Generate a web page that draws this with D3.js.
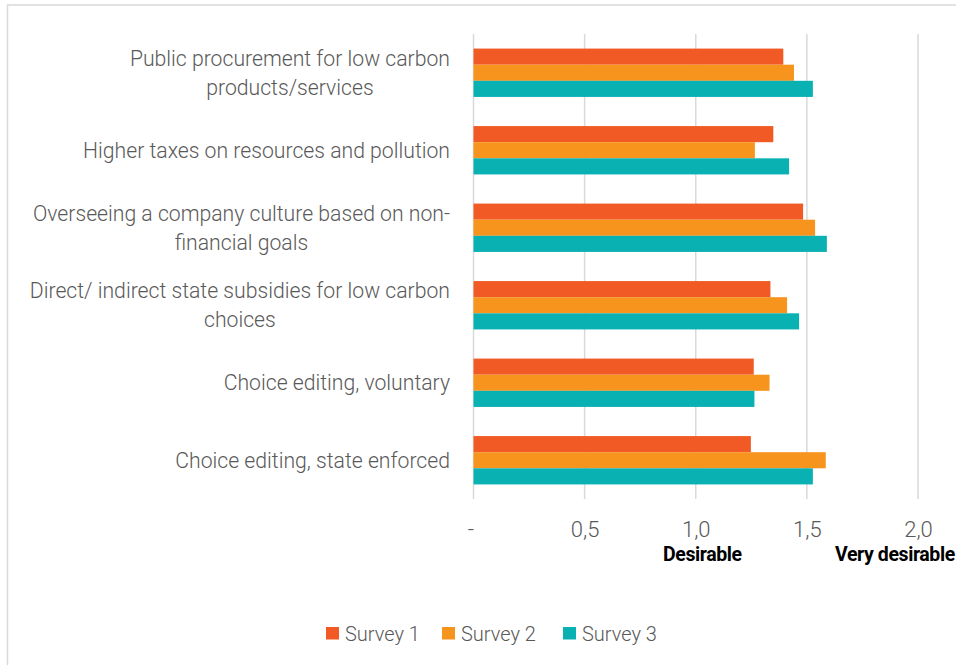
<!DOCTYPE html>
<html>
<head>
<meta charset="utf-8">
<script src="https://cdn.jsdelivr.net/npm/d3@7"></script>
<style>
  html, body { margin: 0; padding: 0; background: #fff; }
  svg { display: block; }
</style>
</head>
<body>
<svg id="chart" width="956" height="665"></svg>
<script>
const categories = [
  ["Public procurement for low carbon", "products/services"],
  ["Higher taxes on resources and pollution"],
  ["Overseeing a company culture based on non-", "financial goals"],
  ["Direct/ indirect state subsidies for low carbon", "choices"],
  ["Choice editing, voluntary"],
  ["Choice editing, state enforced"]
];
const seriesNames = ["Survey 1", "Survey 2", "Survey 3"];
const survey1 = [1.394, 1.349, 1.483, 1.336, 1.261, 1.248];
const survey2 = [1.442, 1.266, 1.537, 1.411, 1.332, 1.585];
const survey3 = [1.527, 1.420, 1.590, 1.465, 1.264, 1.527];
const colors = ["#F15A24", "#F7941D", "#0AB1B2"];
const tickValues = [0, 0.5, 1.0, 1.5, 2.0];
const tickLabels = ["-", "0,5", "1,0", "1,5", "2,0"];
const axisNotes = [{ text: "Desirable", value: 1.0 }, { text: "Very desirable", value: 1.5 }];

const series = [survey1, survey2, survey3];
const svg = d3.select("#chart");
const font = "Roboto, 'Open Sans', sans-serif";

// outer border
svg.append("rect").attr("x", 7.5).attr("y", 5).attr("width", 1000).attr("height", 700)
  .attr("fill", "#fff").attr("stroke", "#d9d9d9").attr("stroke-width", 1.5);

const plot = { left: 473.5, right: 918, top: 34, bottom: 499 };
const x = d3.scaleLinear().domain([0, 2]).range([plot.left, plot.right]);
const y0 = d3.scaleBand().domain(d3.range(categories.length))
  .range([plot.top, plot.bottom]).paddingInner(0.376).paddingOuter(0.188);
const y1 = d3.scaleBand().domain(d3.range(series.length)).range([0, y0.bandwidth()]);

// gridlines
svg.append("g").selectAll("line").data(tickValues).join("line")
  .attr("x1", d => x(d)).attr("x2", d => x(d))
  .attr("y1", plot.top).attr("y2", plot.bottom)
  .attr("stroke", "#d9d9d9").attr("stroke-width", 1.5);

// bars
const groups = svg.append("g").selectAll("g").data(categories).join("g")
  .attr("transform", (d, i) => `translate(0,${y0(i)})`);
groups.selectAll("rect").data((d, i) => series.map((s, k) => ({ k, v: s[i] })))
  .join("rect")
  .attr("x", x(0)).attr("y", d => y1(d.k))
  .attr("width", d => x(d.v) - x(0)).attr("height", y1.bandwidth())
  .attr("fill", d => colors[d.k]);

// x axis tick labels
const xAxis = d3.axisBottom(x).tickValues(tickValues)
  .tickFormat((d, i) => tickLabels[i]).tickSize(0).tickPadding(0);
const gx = svg.append("g").attr("transform", `translate(0,${plot.bottom + 22})`).call(xAxis);
gx.select(".domain").remove();
gx.selectAll("text").attr("font-family", font).attr("font-weight", 300)
  .attr("font-size", 22).attr("fill", "#595959");
gx.selectAll(".tick").filter(d => d === 0).select("text").attr("dx", -3);

// bold notes
svg.append("g").selectAll("text").data(axisNotes).join("text")
  .attr("x", (d, i) => i === 0 ? 663 : 835).attr("y", 561)
  .attr("font-family", "Roboto, sans-serif").attr("font-weight", 700)
  .attr("font-size", 19.5).attr("fill", "#000").attr("letter-spacing", "-0.4")
  .text(d => d.text);

// category labels
const labelRight = 450, lineH = 29;
const catG = svg.append("g").attr("font-family", font).attr("font-weight", 300)
  .attr("font-size", 21.2).attr("fill", "#595959");
categories.forEach((lines, i) => {
  const cy = y0(i) + y0.bandwidth() / 2;
  const g = catG.append("g");
  const texts = lines.map((ln, j) => g.append("text")
    .attr("y", cy + (j - (lines.length - 1) / 2) * lineH)
    .attr("dy", "0.35em").attr("text-anchor", "middle").text(ln));
  const maxW = d3.max(texts, t => t.node().getComputedTextLength());
  texts.forEach(t => t.attr("x", labelRight - maxW / 2));
});

// legend
const legendX = [326, 442, 563];
const leg = svg.append("g").selectAll("g").data(seriesNames).join("g")
  .attr("transform", (d, i) => `translate(${legendX[i]},627)`);
leg.append("rect").attr("width", 13).attr("height", 12.5).attr("fill", (d, i) => colors[i]);
leg.append("text").attr("x", 19).attr("y", 6.5).attr("dy", "0.35em")
  .attr("font-family", font).attr("font-weight", 300).attr("font-size", 20)
  .attr("fill", "#595959").text(d => d);
</script>
</body>
</html>
